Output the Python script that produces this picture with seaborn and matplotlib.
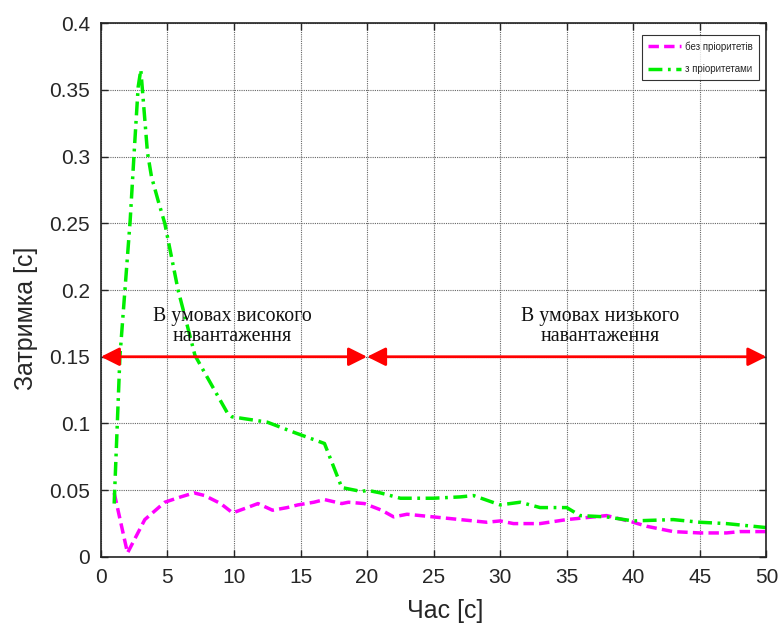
import matplotlib
matplotlib.use("Agg")
import matplotlib.pyplot as plt
import seaborn as sns
import pandas as pd

# Data
x_no_prio = [1, 2, 3.3, 4.8, 6, 7, 7.8, 9, 9.9, 11, 11.8, 12.9, 14, 14.8, 16, 16.8, 18.1, 18.6, 19.8, 21.1, 22,
             23, 25, 27, 29, 30, 31, 33, 35, 37, 38, 40, 41, 43, 45, 47, 48, 50]
y_no_prio = [0.048, 0.003, 0.028, 0.041, 0.045, 0.048, 0.046, 0.040, 0.033, 0.037, 0.040, 0.035, 0.037, 0.039,
             0.041, 0.043, 0.040, 0.041, 0.040, 0.035, 0.030,
             0.032, 0.030, 0.028, 0.026, 0.027, 0.025, 0.025, 0.028, 0.030, 0.031, 0.026, 0.023, 0.019, 0.018,
             0.018, 0.019, 0.019]

x_prio = [1, 1.43, 2.2, 2.5, 2.8, 3, 3.5, 3.8, 4.3, 4.8, 5.8, 7.07, 7.8, 9.5, 9.85, 12.5, 14.6, 16.8, 18.1, 19.6,
          20, 21, 22.5, 25, 27, 28, 30, 31.5, 33, 35, 36, 38, 40, 43, 45, 47, 50]
y_prio = [0.040, 0.150, 0.252, 0.303, 0.352, 0.365, 0.303, 0.285, 0.267, 0.250, 0.200, 0.151, 0.138, 0.108,
          0.105, 0.101, 0.093, 0.085, 0.052, 0.049,
          0.050, 0.048, 0.044, 0.044, 0.045, 0.046, 0.039, 0.041, 0.037, 0.037, 0.031, 0.030, 0.027, 0.028,
          0.026, 0.025, 0.022]

series_names = ["без пріоритетів", "з пріоритетами"]
x_ticks = [0, 5, 10, 15, 20, 25, 30, 35, 40, 45, 50]
y_ticks = [0, 0.05, 0.1, 0.15, 0.2, 0.25, 0.3, 0.35, 0.4]
y_tick_labels = ["0", "0.05", "0.1", "0.15", "0.2", "0.25", "0.3", "0.35", "0.4"]
region_bounds = [0, 20, 50]
arrow_level = 0.15
region_labels = ["В умовах високого\nнавантаження", "В умовах низького\nнавантаження"]
region_label_x = [9.85, 37.5]

df = pd.concat([
    pd.DataFrame({"t": x_no_prio, "d": y_no_prio, "s": series_names[0]}),
    pd.DataFrame({"t": x_prio, "d": y_prio, "s": series_names[1]}),
])

sns.set_style("ticks")
plt.rcParams["font.family"] = ["Liberation Sans", "DejaVu Sans"]

fig = plt.figure(figsize=(7.82, 6.23), dpi=100)
ax = fig.add_axes([0.129, 0.106, 0.851, 0.857])

sns.lineplot(data=df, x="t", y="d", hue="s", style="s",
             palette={series_names[0]: "#ff00ff", series_names[1]: "#00ee00"},
             dashes={series_names[0]: (3, 1.5), series_names[1]: (4, 1.6, 0.8, 1.6)},
             linewidth=2.5, ax=ax, legend=True, sort=False)

ax.set_xlim(0, 50)
ax.set_ylim(0, 0.4)
ax.set_xticks(x_ticks)
ax.set_yticks(y_ticks)
ax.set_yticklabels(y_tick_labels)
ax.tick_params(direction="in", top=True, right=True, labelsize=15, length=5, width=1, pad=8)
ax.grid(True, linestyle=(0, (1, 1)), color="#666666", linewidth=0.8)
for sp in ax.spines.values():
    sp.set_linewidth(1.2)
    sp.set_color("#222222")

ax.set_xlabel("Час [с]", fontsize=18)
ax.set_ylabel("Затримка [с]", fontsize=18)
ax.xaxis.set_label_coords(0.517, -0.078)
ax.yaxis.set_label_coords(-0.095, 0.447)

# Region arrows
for a, b in zip(region_bounds[:-1], region_bounds[1:]):
    ax.annotate("", xy=(a, arrow_level), xytext=(b, arrow_level),
                arrowprops=dict(arrowstyle="<|-|>", color="red", lw=2, mutation_scale=28,
                                shrinkA=0, shrinkB=0))

for cx, lab in zip(region_label_x, region_labels):
    ax.text(cx, 0.1725, lab, ha="center", va="center", fontsize=14.3,
            family=["Liberation Serif", "DejaVu Serif"], linespacing=1.05, color="#111111")

leg = ax.legend(loc="upper right", bbox_to_anchor=(0.9895, 0.9775), fontsize=7, frameon=True,
                fancybox=False, edgecolor="black", handlelength=3.4,
                borderpad=0.65, labelspacing=1.25, handletextpad=0.4, borderaxespad=0)
leg.get_frame().set_linewidth(0.8)

fig.savefig("out.png", dpi=100)
